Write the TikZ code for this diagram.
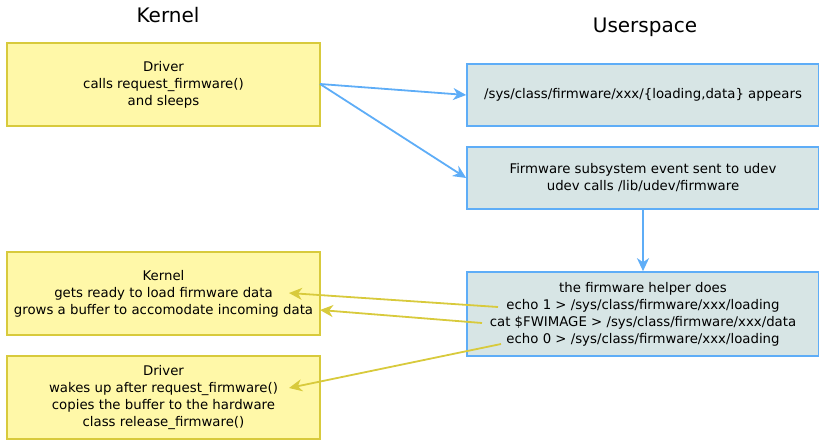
\documentclass[tikz,border=0pt]{standalone}
\usepackage{fontspec}
\setmainfont{DejaVu Sans}
\usetikzlibrary{arrows.meta}
\definecolor{ylfill}{HTML}{FFF8A8}
\definecolor{yldraw}{HTML}{D8CA3C}
\definecolor{bufill}{HTML}{D7E5E5}
\definecolor{budraw}{HTML}{5EADF7}
\tikzset{
  kbox/.style={draw=yldraw,fill=ylfill,line width=1.6pt,align=center,font=\fontsize{13.3}{17}\selectfont,inner sep=0pt},
  ubox/.style={draw=budraw,fill=bufill,line width=1.6pt,align=center,font=\fontsize{13.3}{17}\selectfont,inner sep=0pt},
  barrow/.style={draw=budraw,line width=1.8pt,-{Stealth[length=13pt,width=12pt,inset=4pt]}},
  yarrow/.style={draw=yldraw,line width=1.8pt,-{Stealth[length=13pt,width=12pt,inset=4pt]}},
  title/.style={font=\fontsize{20}{23}\selectfont}
}
\begin{document}
\begin{tikzpicture}[x=1pt,y=-1pt]
\useasboundingbox (0,0) rectangle (819,439);
\node[title] (tk) at (168,15) {Kernel};
\node[title] (tu) at (645,27) {Userspace};
\node[kbox,minimum width=313pt,minimum height=83pt] (d1) at (163.5,84.5) {Driver\\calls request\_firmware()\\and sleeps};
\node[kbox,minimum width=313pt,minimum height=83pt] (k2) at (163.5,293.5) {Kernel\\gets ready to load firmware data\\grows a buffer to accomodate incoming data};
\node[kbox,minimum width=313pt,minimum height=83pt] (d3) at (163.5,397.5) {Driver\\wakes up after request\_firmware()\\copies the buffer to the hardware\\class release\_firmware()};
\node[ubox,minimum width=352pt,minimum height=62pt] (s1) at (643,95) {/sys/class/firmware/xxx/\{loading,data\} appears};
\node[ubox,minimum width=352pt,minimum height=62pt] (s2) at (643,178) {Firmware subsystem event sent to udev\\udev calls /lib/udev/firmware};
\node[ubox,minimum width=352pt,minimum height=84pt] (s3) at (643,314) {the firmware helper does\\echo 1 > /sys/class/firmware/xxx/loading\\cat \$FWIMAGE > /sys/class/firmware/xxx/data\\echo 0 > /sys/class/firmware/xxx/loading};
\coordinate (d1r) at (320,84);
\draw[barrow] (d1r) -- (s1.west);
\draw[barrow] (d1r) -- (s2.west);
\draw[barrow] (s2.south) -- (s3.north);
\coordinate (h1) at (498,307);
\coordinate (h2) at (482,323);
\coordinate (h3) at (501,344);
\coordinate (t1) at (289,293);
\coordinate (t2) at (320,310);
\coordinate (t3) at (289,388);
\draw[yarrow] (h1) -- (t1);
\draw[yarrow] (h2) -- (t2);
\draw[yarrow] (h3) -- (t3);
\end{tikzpicture}
\end{document}
